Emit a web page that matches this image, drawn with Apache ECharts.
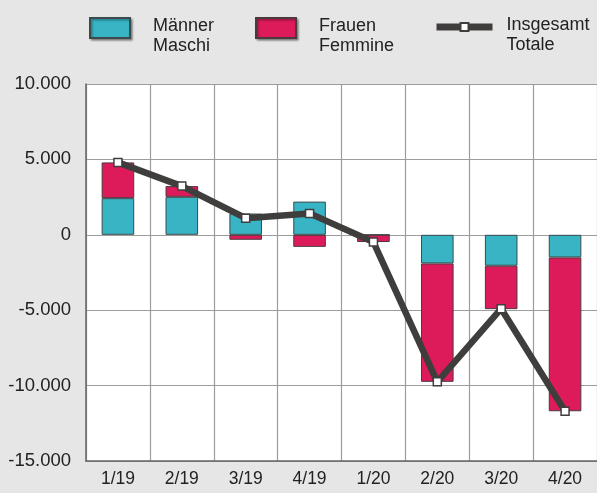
<!DOCTYPE html>
<html>
<head>
<meta charset="utf-8">
<script src="https://cdn.jsdelivr.net/npm/echarts@6/dist/echarts.min.js"></script>
<style>
html,body{margin:0;padding:0;background:#e6e6e6;}
#chart{width:597px;height:493px;}
</style>
</head>
<body>
<div id="chart"></div>
<script>
const categories = ['1/19','2/19','3/19','4/19','1/20','2/20','3/20','4/20'];
const maenner = [2430, 2520, 1410, 2200, 0, -1900, -2050, -1500];
const frauen = [2370, 710, -330, -800, -480, -7850, -2880, -10200];
const insgesamt = [4800, 3230, 1100, 1420, -480, -9750, -4900, -11700];
const yTicks = {min: -15000, max: 10000, interval: 5000};

const nameM = 'Männer\nMaschi';
const nameF = 'Frauen\nFemmine';
const nameT = 'Insgesamt\nTotale';

const chart = echarts.init(document.getElementById('chart'));
const fontFamily = 'Liberation Sans, Arial, sans-serif';
function legendFmt(name){
  return '{s| }\n' + name.split('\n').map(l => '{t|' + l + '}').join('\n');
}
function legendText(padLeft){
  return {
    padding: [0, 0, 0, padLeft],
    rich: {
      s: {fontSize: 2, lineHeight: 16},
      t: {fontSize: 18, lineHeight: 20, color: '#222', fontFamily: fontFamily}
    }
  };
}
const swatchShadow = {shadowColor: 'rgba(0,0,0,0.35)', shadowBlur: 2, shadowOffsetX: 1.5, shadowOffsetY: 1.5};
function fmt(v){
  const s = Math.abs(v).toString().replace(/\B(?=(\d{3})+(?!\d))/g, '.');
  return (v < 0 ? '-' : '') + s;
}
chart.setOption({
  backgroundColor: '#e6e6e6',
  animation: false,
  legend: [
    {data: [nameM], left: 89, top: 7, padding: 0, icon: 'rect', itemWidth: 40, itemHeight: 20,
     formatter: legendFmt, textStyle: legendText(18), itemStyle: swatchShadow},
    {data: [nameF], left: 255, top: 7, padding: 0, icon: 'rect', itemWidth: 40, itemHeight: 20,
     formatter: legendFmt, textStyle: legendText(18), itemStyle: swatchShadow},
    {data: [nameT], left: 433, top: 6, padding: 0, itemWidth: 56, itemHeight: 10,
     lineStyle: {width: 7, color: '#403d3d'},
     formatter: legendFmt, textStyle: legendText(9)}
  ],
  grid: {left: 86, right: 0, top: 84, bottom: 32, show: true, backgroundColor: '#ffffff', borderWidth: 0},
  xAxis: {
    type: 'category',
    data: categories,
    axisLine: {onZero: false, lineStyle: {color: '#666', width: 1.5}},
    axisTick: {show: false},
    splitLine: {show: true, lineStyle: {color: '#9c9c9c', width: 1.2}},
    axisLabel: {fontSize: 17.5, color: '#222', fontFamily: fontFamily, margin: 9}
  },
  yAxis: {
    type: 'value',
    min: yTicks.min, max: yTicks.max, interval: yTicks.interval,
    axisLine: {show: true, lineStyle: {color: '#666', width: 1.5}},
    axisTick: {show: false},
    splitLine: {show: true, lineStyle: {color: '#9c9c9c', width: 1.2}},
    axisLabel: {fontSize: 18.5, color: '#222', fontFamily: fontFamily, margin: 15, formatter: fmt}
  },
  series: [
    {name: nameM, type: 'bar', stack: 'a', data: maenner, barWidth: '51%',
     itemStyle: {color: '#38b4c5', borderColor: '#3d4a4c', borderWidth: 1}},
    {name: nameF, type: 'bar', stack: 'a', data: frauen, barWidth: '51%',
     itemStyle: {color: '#de1b5a', borderColor: '#4a3a3e', borderWidth: 1}},
    {name: nameT, type: 'line', data: insgesamt, symbol: 'rect', symbolSize: 8,
     lineStyle: {color: '#403d3d', width: 6.5},
     itemStyle: {color: '#ffffff', borderColor: '#403d3d', borderWidth: 1.5}, z: 5}
  ]
});
</script>
</body>
</html>
